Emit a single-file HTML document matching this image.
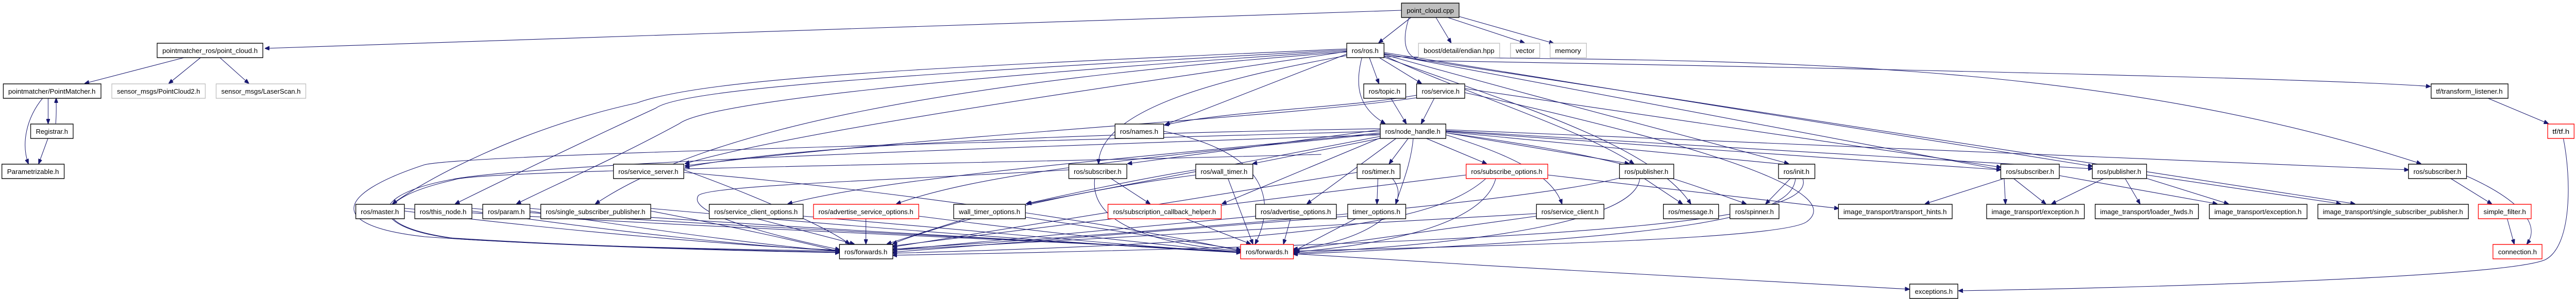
<!DOCTYPE html>
<html><head><meta charset="utf-8"><style>
html,body{margin:0;padding:0;background:#fff;width:100%;height:100%;overflow:hidden}
svg{display:block;width:100vw;height:100vh}
text{font-family:"Liberation Sans",sans-serif;font-size:13px;fill:#000}
.n{fill:#fff;stroke:#000;stroke-width:1.4}
.g{fill:#fff;stroke:#bfbfbf;stroke-width:1.4}
.r{fill:#fff;stroke:#ff0000;stroke-width:1.4}
.e path{fill:none;stroke:#191970;stroke-width:1.1}
</style></head><body>
<svg viewBox="0 0 5459 581" preserveAspectRatio="none" xmlns="http://www.w3.org/2000/svg">
<defs><marker id="a" markerWidth="10" markerHeight="8" refX="9" refY="4" orient="auto" markerUnits="userSpaceOnUse"><path d="M0,0 L10,4 L0,8 z" fill="#191970" stroke="#191970"/></marker></defs>
<g class="e">
<path marker-end="url(#a)" d="M2970,20 L562,94"/>
<path marker-end="url(#a)" d="M2990,34 L2922,83"/>
<path marker-end="url(#a)" d="M3043,34 L3075,83"/>
<path marker-end="url(#a)" d="M3068,34 L3230,83"/>
<path marker-end="url(#a)" d="M3092,32 L3292,84"/>
<path marker-end="url(#a)" d="M2986,34 C2970,80 2975,115 3020,118 C3500,125 4900,150 5150,168"/>
<path marker-end="url(#a)" d="M390,112 L180,162"/>
<path marker-end="url(#a)" d="M425,112 L358,162"/>
<path marker-end="url(#a)" d="M466,112 L527,162"/>
<path marker-end="url(#a)" d="M102,190 L102,240"/>
<path marker-end="url(#a)" d="M118,240 C120,220 119,205 119,191"/>
<path marker-end="url(#a)" d="M91,190 C55,230 45,280 60,318"/>
<path marker-end="url(#a)" d="M102,268 L82,318"/>
<path marker-end="url(#a)" d="M2902,112 L2922,162"/>
<path marker-end="url(#a)" d="M2923,112 L3012,162"/>
<path marker-end="url(#a)" d="M2886,112 C2870,170 2880,210 2935,240"/>
<path marker-end="url(#a)" d="M2854,105 L2470,242"/>
<path marker-end="url(#a)" d="M2854,100 C2500,150 1700,250 1452,318"/>
<path marker-end="url(#a)" d="M2854,95 C2000,130 1500,150 1350,200 C1100,250 900,350 832,396"/>
<path marker-end="url(#a)" d="M2854,97 C2000,140 1450,170 1390,210 C1200,290 1000,380 965,396"/>
<path marker-end="url(#a)" d="M2854,99 C2000,150 1500,200 1440,240 C1300,310 1150,370 1095,396"/>
<path marker-end="url(#a)" d="M2854,101 C2000,160 1500,250 1262,396"/>
<path marker-end="url(#a)" d="M2854,108 C2600,150 2330,210 2328,318"/>
<path marker-end="url(#a)" d="M2933,108 C3100,180 3350,250 3462,318"/>
<path marker-end="url(#a)" d="M2933,106 C3300,200 3600,270 3790,318"/>
<path marker-end="url(#a)" d="M2930,110 C3200,200 3500,280 3583,396"/>
<path marker-end="url(#a)" d="M2933,104 L4240,330"/>
<path marker-end="url(#a)" d="M2933,102 L4434,323"/>
<path marker-end="url(#a)" d="M2933,110 C3600,120 4400,100 5130,318"/>
<path marker-end="url(#a)" d="M2933,105 L4990,396"/>
<path marker-end="url(#a)" d="M3002,185 C2850,210 2600,215 2468,243"/>
<path marker-end="url(#a)" d="M3002,190 C2700,230 2000,260 1452,322"/>
<path marker-end="url(#a)" d="M3040,190 L3012,240"/>
<path marker-end="url(#a)" d="M2947,190 L2980,240"/>
<path marker-end="url(#a)" d="M3104,172 L4240,325"/>
<path marker-end="url(#a)" d="M3104,180 C3700,300 3900,380 3830,430 C3780,470 3000,480 2745,488"/>
<path marker-end="url(#a)" d="M2985,268 L2944,318"/>
<path marker-end="url(#a)" d="M2995,268 C2990,320 2970,360 2958,396"/>
<path marker-end="url(#a)" d="M3020,268 L3150,318"/>
<path marker-end="url(#a)" d="M3064,262 C3200,300 3290,340 3310,396"/>
<path marker-end="url(#a)" d="M3064,258 L3452,318"/>
<path marker-end="url(#a)" d="M3064,258 C3400,300 3500,330 3700,396"/>
<path marker-end="url(#a)" d="M3064,256 L3790,320"/>
<path marker-end="url(#a)" d="M3064,255 L4240,330"/>
<path marker-end="url(#a)" d="M3064,254 L4434,328"/>
<path marker-end="url(#a)" d="M3064,252 L5104,330"/>
<path marker-end="url(#a)" d="M2534,330 C2400,350 2250,380 2175,396"/>
<path marker-end="url(#a)" d="M2925,265 L2177,396"/>
<path marker-end="url(#a)" d="M2925,258 C2500,300 1900,340 1670,396"/>
<path marker-end="url(#a)" d="M2925,260 C2500,300 2100,330 1900,396"/>
<path marker-end="url(#a)" d="M2925,252 L2390,318"/>
<path marker-end="url(#a)" d="M2930,268 L2655,318"/>
<path marker-end="url(#a)" d="M2925,268 L2590,396"/>
<path marker-end="url(#a)" d="M2960,268 L2770,396"/>
<path marker-end="url(#a)" d="M2466,255 C2700,300 2700,400 2660,474"/>
<path marker-end="url(#a)" d="M2925,250 C2300,260 1700,280 1452,325"/>
<path marker-end="url(#a)" d="M2925,255 C2000,280 1000,300 900,320 C700,380 700,440 900,460 C1200,480 1600,485 1779,488"/>
<path marker-end="url(#a)" d="M2925,262 C2000,290 1100,320 950,350 C780,380 780,440 950,462 C1250,480 1600,487 1779,490"/>
<path marker-end="url(#a)" d="M2800,300 C2000,320 1000,330 960,350 C770,390 790,445 980,465 C1300,482 1600,488 1779,491"/>
<path marker-end="url(#a)" d="M857,410 C1200,450 1600,480 1779,486"/>
<path marker-end="url(#a)" d="M1000,410 C1300,450 1600,480 1779,487"/>
<path marker-end="url(#a)" d="M1123,410 C1400,450 1650,480 1779,488"/>
<path marker-end="url(#a)" d="M1379,410 C1550,440 1700,470 1779,489"/>
<path marker-end="url(#a)" d="M857,405 C1400,440 2300,470 2629,490"/>
<path marker-end="url(#a)" d="M1000,405 C1500,440 2300,470 2629,490"/>
<path marker-end="url(#a)" d="M1123,405 C1600,440 2300,472 2629,491"/>
<path marker-end="url(#a)" d="M1379,405 C1800,440 2300,475 2629,491"/>
<path marker-end="url(#a)" d="M1449,330 C1600,380 1750,440 1800,474"/>
<path marker-end="url(#a)" d="M1449,335 C1900,370 2400,440 2629,488"/>
<path marker-end="url(#a)" d="M1600,424 L1810,474"/>
<path marker-end="url(#a)" d="M1702,420 C2100,450 2400,480 2629,490"/>
<path marker-end="url(#a)" d="M1835,424 L1835,474"/>
<path marker-end="url(#a)" d="M1947,420 C2200,450 2500,480 2629,490"/>
<path marker-end="url(#a)" d="M2050,424 L1880,474"/>
<path marker-end="url(#a)" d="M2173,422 L2629,485"/>
<path marker-end="url(#a)" d="M2265,330 C1900,350 1500,360 1480,380 C1450,420 1700,470 1779,485"/>
<path marker-end="url(#a)" d="M2353,346 L2437,396"/>
<path marker-end="url(#a)" d="M2320,346 C2310,420 2400,470 2629,488"/>
<path marker-end="url(#a)" d="M2602,346 L2655,474"/>
<path marker-end="url(#a)" d="M2534,340 C2200,380 1950,450 1892,474"/>
<path marker-end="url(#a)" d="M2510,424 L2650,474"/>
<path marker-end="url(#a)" d="M2735,424 L2720,474"/>
<path marker-end="url(#a)" d="M2661,420 L1892,486"/>
<path marker-end="url(#a)" d="M2876,335 L1892,480"/>
<path marker-end="url(#a)" d="M2950,346 C3000,400 2900,470 2741,484"/>
<path marker-end="url(#a)" d="M2920,346 L2918,396"/>
<path marker-end="url(#a)" d="M2856,420 L1892,490"/>
<path marker-end="url(#a)" d="M2875,424 L2741,488"/>
<path marker-end="url(#a)" d="M3107,340 L1892,478"/>
<path marker-end="url(#a)" d="M3280,340 L3896,405"/>
<path marker-end="url(#a)" d="M3170,346 C3150,420 3000,470 2741,490"/>
<path marker-end="url(#a)" d="M3150,346 C3050,430 2800,470 1892,492"/>
<path marker-end="url(#a)" d="M3432,346 C3200,400 2300,460 1892,484"/>
<path marker-end="url(#a)" d="M3475,346 C3470,420 3200,470 2741,492"/>
<path marker-end="url(#a)" d="M3483,346 L3565,396"/>
<path marker-end="url(#a)" d="M3795,346 L3742,396"/>
<path marker-end="url(#a)" d="M3805,346 C3800,420 3600,460 2741,494"/>
<path marker-end="url(#a)" d="M3820,346 C3850,420 3500,470 1892,496"/>
<path marker-end="url(#a)" d="M3256,415 L1892,486"/>
<path marker-end="url(#a)" d="M3256,420 L2741,486"/>
<path marker-end="url(#a)" d="M4247,346 L4250,396"/>
<path marker-end="url(#a)" d="M4266,346 L4335,396"/>
<path marker-end="url(#a)" d="M4363,341 L4698,396"/>
<path marker-end="url(#a)" d="M4250,346 L4080,396"/>
<path marker-end="url(#a)" d="M4460,346 L4348,396"/>
<path marker-end="url(#a)" d="M4503,346 L4535,396"/>
<path marker-end="url(#a)" d="M4547,346 L4722,396"/>
<path marker-end="url(#a)" d="M4549,340 L4960,396"/>
<path marker-end="url(#a)" d="M5192,346 L5280,396"/>
<path marker-end="url(#a)" d="M5227,342 C5320,380 5390,430 5355,474"/>
<path marker-end="url(#a)" d="M5313,424 L5328,474"/>
<path marker-end="url(#a)" d="M5270,190 L5400,240"/>
<path marker-end="url(#a)" d="M5432,268 C5450,350 5450,480 5393,505 C5300,540 4500,560 4151,565"/>
<path marker-end="url(#a)" d="M2741,493 C3200,520 3800,550 4046,562"/>
</g>
<g>
<rect x="2970" y="6" width="122" height="28" fill="#bfbfbf" stroke="#000" stroke-width="1.4"/><text x="3031" y="25" text-anchor="middle" textLength="100" lengthAdjust="spacingAndGlyphs">point_cloud.cpp</text>
<rect class="n" x="333" y="84" width="224" height="28"/><text x="445" y="103" text-anchor="middle" textLength="202" lengthAdjust="spacingAndGlyphs">pointmatcher_ros/point_cloud.h</text>
<rect class="n" x="2854" y="84" width="79" height="28"/><text x="2893" y="103" text-anchor="middle" textLength="57" lengthAdjust="spacingAndGlyphs">ros/ros.h</text>
<rect class="g" x="3006" y="84" width="172" height="28"/><text x="3092" y="103" text-anchor="middle" textLength="150" lengthAdjust="spacingAndGlyphs">boost/detail/endian.hpp</text>
<rect class="g" x="3201" y="84" width="62" height="28"/><text x="3232" y="103" text-anchor="middle" textLength="40" lengthAdjust="spacingAndGlyphs">vector</text>
<rect class="g" x="3285" y="84" width="77" height="28"/><text x="3323" y="103" text-anchor="middle" textLength="55" lengthAdjust="spacingAndGlyphs">memory</text>
<rect class="n" x="7" y="163" width="207" height="28"/><text x="110" y="182" text-anchor="middle" textLength="185" lengthAdjust="spacingAndGlyphs">pointmatcher/PointMatcher.h</text>
<rect class="g" x="237" y="163" width="198" height="28"/><text x="336" y="182" text-anchor="middle" textLength="176" lengthAdjust="spacingAndGlyphs">sensor_msgs/PointCloud2.h</text>
<rect class="g" x="458" y="163" width="190" height="28"/><text x="553" y="182" text-anchor="middle" textLength="168" lengthAdjust="spacingAndGlyphs">sensor_msgs/LaserScan.h</text>
<rect class="n" x="2890" y="163" width="89" height="28"/><text x="2934" y="182" text-anchor="middle" textLength="67" lengthAdjust="spacingAndGlyphs">ros/topic.h</text>
<rect class="n" x="3002" y="163" width="102" height="28"/><text x="3053" y="182" text-anchor="middle" textLength="80" lengthAdjust="spacingAndGlyphs">ros/service.h</text>
<rect class="n" x="5152" y="163" width="163" height="28"/><text x="5233" y="182" text-anchor="middle" textLength="141" lengthAdjust="spacingAndGlyphs">tf/transform_listener.h</text>
<rect class="n" x="65" y="241" width="90" height="28"/><text x="110" y="260" text-anchor="middle" textLength="68" lengthAdjust="spacingAndGlyphs">Registrar.h</text>
<rect class="n" x="2363" y="241" width="103" height="28"/><text x="2414" y="260" text-anchor="middle" textLength="81" lengthAdjust="spacingAndGlyphs">ros/names.h</text>
<rect class="n" x="2925" y="241" width="139" height="28"/><text x="2994" y="260" text-anchor="middle" textLength="117" lengthAdjust="spacingAndGlyphs">ros/node_handle.h</text>
<rect class="r" x="5399" y="241" width="56" height="28"/><text x="5427" y="260" text-anchor="middle" textLength="36" lengthAdjust="spacingAndGlyphs">tf/tf.h</text>
<rect class="n" x="4" y="319" width="132" height="28"/><text x="70" y="338" text-anchor="middle" textLength="110" lengthAdjust="spacingAndGlyphs">Parametrizable.h</text>
<rect class="n" x="1300" y="319" width="149" height="28"/><text x="1374" y="338" text-anchor="middle" textLength="127" lengthAdjust="spacingAndGlyphs">ros/service_server.h</text>
<rect class="n" x="2265" y="319" width="123" height="28"/><text x="2326" y="338" text-anchor="middle" textLength="101" lengthAdjust="spacingAndGlyphs">ros/subscriber.h</text>
<rect class="n" x="2534" y="319" width="121" height="28"/><text x="2594" y="338" text-anchor="middle" textLength="99" lengthAdjust="spacingAndGlyphs">ros/wall_timer.h</text>
<rect class="n" x="2876" y="319" width="91" height="28"/><text x="2921" y="338" text-anchor="middle" textLength="69" lengthAdjust="spacingAndGlyphs">ros/timer.h</text>
<rect class="r" x="3107" y="319" width="173" height="28"/><text x="3193" y="338" text-anchor="middle" textLength="151" lengthAdjust="spacingAndGlyphs">ros/subscribe_options.h</text>
<rect class="n" x="3432" y="319" width="115" height="28"/><text x="3489" y="338" text-anchor="middle" textLength="93" lengthAdjust="spacingAndGlyphs">ros/publisher.h</text>
<rect class="n" x="3769" y="319" width="77" height="28"/><text x="3807" y="338" text-anchor="middle" textLength="55" lengthAdjust="spacingAndGlyphs">ros/init.h</text>
<rect class="n" x="4240" y="319" width="124" height="28"/><text x="4302" y="338" text-anchor="middle" textLength="102" lengthAdjust="spacingAndGlyphs">ros/subscriber.h</text>
<rect class="n" x="4434" y="319" width="115" height="28"/><text x="4491" y="338" text-anchor="middle" textLength="93" lengthAdjust="spacingAndGlyphs">ros/publisher.h</text>
<rect class="n" x="5104" y="319" width="123" height="28"/><text x="5165" y="338" text-anchor="middle" textLength="101" lengthAdjust="spacingAndGlyphs">ros/subscriber.h</text>
<rect class="n" x="754" y="397" width="103" height="28"/><text x="805" y="416" text-anchor="middle" textLength="81" lengthAdjust="spacingAndGlyphs">ros/master.h</text>
<rect class="n" x="879" y="397" width="121" height="28"/><text x="939" y="416" text-anchor="middle" textLength="99" lengthAdjust="spacingAndGlyphs">ros/this_node.h</text>
<rect class="n" x="1023" y="397" width="100" height="28"/><text x="1073" y="416" text-anchor="middle" textLength="78" lengthAdjust="spacingAndGlyphs">ros/param.h</text>
<rect class="n" x="1146" y="397" width="233" height="28"/><text x="1262" y="416" text-anchor="middle" textLength="211" lengthAdjust="spacingAndGlyphs">ros/single_subscriber_publisher.h</text>
<rect class="n" x="1503" y="397" width="199" height="28"/><text x="1602" y="416" text-anchor="middle" textLength="177" lengthAdjust="spacingAndGlyphs">ros/service_client_options.h</text>
<rect class="r" x="1724" y="397" width="223" height="28"/><text x="1835" y="416" text-anchor="middle" textLength="201" lengthAdjust="spacingAndGlyphs">ros/advertise_service_options.h</text>
<rect class="n" x="2021" y="397" width="152" height="28"/><text x="2097" y="416" text-anchor="middle" textLength="130" lengthAdjust="spacingAndGlyphs">wall_timer_options.h</text>
<rect class="r" x="2348" y="397" width="240" height="28"/><text x="2468" y="416" text-anchor="middle" textLength="218" lengthAdjust="spacingAndGlyphs">ros/subscription_callback_helper.h</text>
<rect class="n" x="2661" y="397" width="171" height="28"/><text x="2746" y="416" text-anchor="middle" textLength="149" lengthAdjust="spacingAndGlyphs">ros/advertise_options.h</text>
<rect class="n" x="2856" y="397" width="123" height="28"/><text x="2917" y="416" text-anchor="middle" textLength="101" lengthAdjust="spacingAndGlyphs">timer_options.h</text>
<rect class="n" x="3256" y="397" width="143" height="28"/><text x="3327" y="416" text-anchor="middle" textLength="121" lengthAdjust="spacingAndGlyphs">ros/service_client.h</text>
<rect class="n" x="3525" y="397" width="117" height="28"/><text x="3583" y="416" text-anchor="middle" textLength="95" lengthAdjust="spacingAndGlyphs">ros/message.h</text>
<rect class="n" x="3666" y="397" width="104" height="28"/><text x="3718" y="416" text-anchor="middle" textLength="82" lengthAdjust="spacingAndGlyphs">ros/spinner.h</text>
<rect class="n" x="3896" y="397" width="241" height="28"/><text x="4016" y="416" text-anchor="middle" textLength="219" lengthAdjust="spacingAndGlyphs">image_transport/transport_hints.h</text>
<rect class="n" x="4210" y="397" width="207" height="28"/><text x="4313" y="416" text-anchor="middle" textLength="185" lengthAdjust="spacingAndGlyphs">image_transport/exception.h</text>
<rect class="n" x="4440" y="397" width="219" height="28"/><text x="4549" y="416" text-anchor="middle" textLength="197" lengthAdjust="spacingAndGlyphs">image_transport/loader_fwds.h</text>
<rect class="n" x="4682" y="397" width="207" height="28"/><text x="4785" y="416" text-anchor="middle" textLength="185" lengthAdjust="spacingAndGlyphs">image_transport/exception.h</text>
<rect class="n" x="4912" y="397" width="319" height="28"/><text x="5071" y="416" text-anchor="middle" textLength="297" lengthAdjust="spacingAndGlyphs">image_transport/single_subscriber_publisher.h</text>
<rect class="r" x="5252" y="397" width="112" height="28"/><text x="5308" y="416" text-anchor="middle" textLength="90" lengthAdjust="spacingAndGlyphs">simple_filter.h</text>
<rect class="n" x="1779" y="475" width="113" height="28"/><text x="1835" y="494" text-anchor="middle" textLength="91" lengthAdjust="spacingAndGlyphs">ros/forwards.h</text>
<rect class="r" x="2629" y="475" width="112" height="28"/><text x="2685" y="494" text-anchor="middle" textLength="90" lengthAdjust="spacingAndGlyphs">ros/forwards.h</text>
<rect class="r" x="5283" y="475" width="104" height="28"/><text x="5335" y="494" text-anchor="middle" textLength="82" lengthAdjust="spacingAndGlyphs">connection.h</text>
<rect class="n" x="4047" y="552" width="102" height="28"/><text x="4098" y="571" text-anchor="middle" textLength="80" lengthAdjust="spacingAndGlyphs">exceptions.h</text>
</g>
</svg>
</body></html>
